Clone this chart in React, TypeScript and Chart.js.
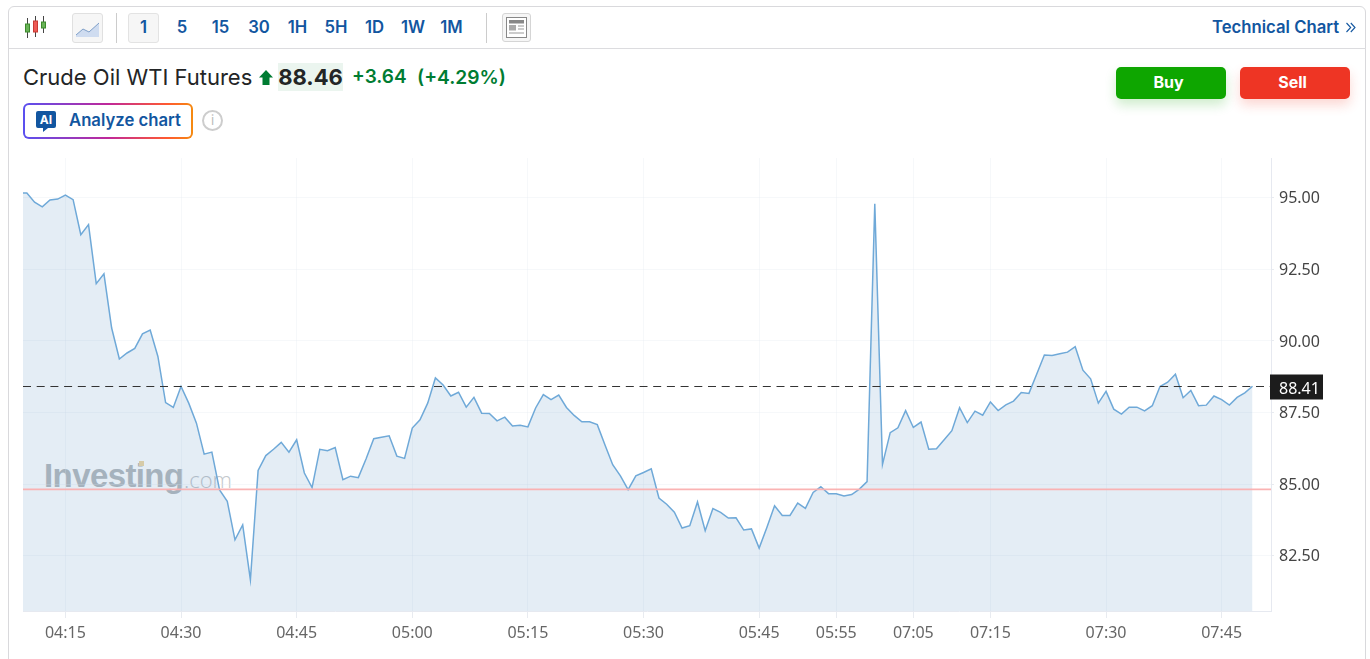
import React, { useEffect, useRef } from "react";
import { Chart, registerables } from "chart.js";

Chart.register(...registerables);

const prices = [
  95.16, 95.16, 94.84, 94.68, 94.92, 94.95, 95.09, 94.93, 93.71, 94.06,
  92.0, 92.34, 90.45, 89.37, 89.58, 89.74, 90.25, 90.38, 89.46, 87.85,
  87.68, 88.41, 87.83, 87.13, 86.05, 86.12, 84.8, 84.4, 83.06, 83.58,
  81.66, 85.48, 86.0, 86.22, 86.46, 86.12, 86.55, 85.39, 84.88, 86.22,
  86.17, 86.28, 85.16, 85.28, 85.23, 85.88, 86.59, 86.64, 86.69, 85.98,
  85.9, 86.96, 87.25, 87.83, 88.71, 88.46, 88.08, 88.21, 87.69, 88.03,
  87.48, 87.47, 87.21, 87.34, 87.03, 87.06, 87.0, 87.66, 88.13, 87.95,
  88.11, 87.68, 87.4, 87.18, 87.18, 87.08, 86.37, 85.68, 85.29, 84.81,
  85.29, 85.41, 85.54, 84.52, 84.3, 84.02, 83.47, 83.55, 84.38, 83.38,
  84.15, 84.02, 83.82, 83.83, 83.4, 83.44, 82.77, 83.49, 84.25, 83.91,
  83.91, 84.34, 84.16, 84.71, 84.91, 84.67, 84.67, 84.59, 84.64, 84.83,
  85.09, 94.79, 85.69, 86.8, 86.97, 87.57, 86.98, 87.17, 86.22, 86.24,
  86.55, 86.87, 87.67, 87.15, 87.55, 87.41, 87.87, 87.57, 87.77, 87.9,
  88.2, 88.17, 88.84, 89.51, 89.49, 89.55, 89.61, 89.8, 88.98, 88.68,
  87.83, 88.24, 87.62, 87.45, 87.69, 87.69, 87.56, 87.74, 88.41, 88.56,
  88.84, 88.02, 88.27, 87.74, 87.76, 88.08, 87.95, 87.76, 88.03, 88.19,
  88.42,
];
const timeTickIndex = [6, 21, 36, 51, 66, 81, 96, 106, 116, 126, 141, 156];
const timeTickLabels = ["04:15", "04:30", "04:45", "05:00", "05:15", "05:30", "05:45", "05:55", "07:05", "07:15", "07:30", "07:45"];
const priceTicks = [82.5, 85, 87.5, 90, 92.5, 95];
const currentLevel = 88.41;
const previousClose = 84.82;
const intervals = ["1", "5", "15", "30", "1H", "5H", "1D", "1W", "1M"];
const intervalCenters = [143.5, 182, 220.5, 259, 297.5, 336, 374.5, 413, 451.5];

const X_MIN = 0.5;
const X_MAX = 162.4;
const BLUE = "#1256a0";
const GREEN = "#007c32";

const abs = (left: number, top: number, extra: React.CSSProperties = {}): React.CSSProperties => ({
  position: "absolute",
  left,
  top,
  ...extra,
});

const priceLabel = {
  id: "priceLabel",
  afterDraw(chart: any) {
    const y = chart.scales.y.getPixelForValue(currentLevel);
    const { ctx, chartArea } = chart;
    ctx.save();
    ctx.fillStyle = "#1c1c1c";
    ctx.fillRect(chartArea.right - 1, Math.round(y) - 12.5, 53, 25);
    ctx.fillStyle = "#fff";
    ctx.font = '16px "Noto Sans"';
    ctx.textBaseline = "middle";
    ctx.textAlign = "left";
    ctx.fillText(currentLevel.toFixed(2), chartArea.right + 8, Math.round(y) + 2.5);
    ctx.restore();
  },
};

function Toolbar() {
  return (
    <>
      <svg style={abs(24, 15)} width="24" height="24" viewBox="0 0 24 24">
        <path d="M3.5 3v20M11.5 1v21M19.5 1v17" stroke="#444" strokeWidth="1" fill="none" />
        <rect x="1.5" y="9" width="4" height="8" fill="#69b357" stroke="#3c8a2c" />
        <rect x="9.5" y="6" width="4" height="11" fill="#ee5a55" stroke="#c83a35" />
        <rect x="17.5" y="7" width="4" height="6" fill="#69b357" stroke="#3c8a2c" />
      </svg>
      <div style={abs(72, 13, { width: 29, height: 28, border: "1px solid #e0e0e0", borderRadius: 3, background: "#f6f6f6" })}>
        <svg width="29" height="28" viewBox="0 0 29 28">
          <path d="M3 21l7-6 6 3 10-9v14H3z" fill="#cfdcf0" />
          <path d="M3 21l7-6 6 3 10-9" stroke="#7f9fc8" strokeWidth="1" fill="none" />
        </svg>
      </div>
      <div style={abs(116, 13, { width: 1, height: 30, background: "#ccc" })} />
      <div style={abs(128, 13, { width: 29, height: 28, border: "1px solid #e3e3e3", borderRadius: 3, background: "#f6f6f6" })} />
      {intervals.map((t, i) => (
        <div key={t} style={abs(intervalCenters[i] - 20, 17, { width: 40, textAlign: "center", fontSize: 16.7, lineHeight: "20px", fontWeight: 600, color: BLUE })}>{t}</div>
      ))}
      <div style={abs(486, 13, { width: 1, height: 30, background: "#ccc" })} />
      <div style={abs(502, 13, { width: 27, height: 27, border: "1px solid #d5d5d5", borderRadius: 3, background: "#f6f6f6" })}>
        <svg width="27" height="27" viewBox="0 0 27 27">
          <rect x="3.5" y="3.5" width="20" height="20" fill="#fff" stroke="#888" />
          <rect x="6" y="6" width="15" height="3.5" fill="#888" />
          <rect x="6" y="11" width="7" height="5.5" fill="#aaa" />
          <path d="M15 12h6M15 15h6M6 19h15" stroke="#999" strokeWidth="1" />
        </svg>
      </div>
      <div style={abs(1212, 17, { fontSize: 16.7, lineHeight: "20px", fontWeight: 600, color: BLUE, whiteSpace: "nowrap" })}>Technical Chart</div>
      <svg style={abs(1345, 22)} width="11" height="11" viewBox="0 0 11 11">
        <path d="M1.5 1l4.2 4.5L1.5 10M5.8 1L10 5.5 5.8 10" stroke={BLUE} strokeWidth="1.1" fill="none" />
      </svg>
    </>
  );
}

function Quote() {
  return (
    <>
      <div style={abs(23, 64, { fontSize: 22, lineHeight: "26px", color: "#232526", whiteSpace: "nowrap" })}>Crude Oil WTI Futures</div>
      <svg style={abs(259, 70)} width="14" height="15" viewBox="0 0 14 15">
        <path d="M7 0l7 7.5H10.5V15H3.5V7.5H0z" fill={GREEN} />
      </svg>
      <div style={abs(278, 63, { width: 65, height: 28, background: "#ebf5ef", textAlign: "center", fontSize: 22, lineHeight: "28px", fontWeight: 700, color: "#232526" })}>88.46</div>
      <div style={abs(352, 65, { fontSize: 19, lineHeight: "24px", fontWeight: 600, color: GREEN, whiteSpace: "nowrap" })}>+3.64</div>
      <div style={abs(417, 65, { fontSize: 19.2, lineHeight: "24px", fontWeight: 600, color: GREEN, whiteSpace: "nowrap" })}>(+4.29%)</div>
      <div style={abs(23, 103, { width: 170, height: 36, borderRadius: 6, background: "linear-gradient(90deg,#5a50f0,#c0289a 50%,#ff5a30 85%,#f58a10)" })} />
      <div style={abs(25, 105, { width: 166, height: 32, borderRadius: 4, background: "#fff" })} />
      <svg style={abs(36, 111)} width="20" height="21" viewBox="0 0 20 21">
        <path d="M2 0h16a2 2 0 0 1 2 2v13a2 2 0 0 1-2 2h-6l-5 4v-4H2a2 2 0 0 1-2-2V2a2 2 0 0 1 2-2z" fill={BLUE} />
      </svg>
      <div style={abs(36, 112, { width: 20, textAlign: "center", fontSize: 12, lineHeight: "15px", fontWeight: 700, color: "#fff" })}>AI</div>
      <div style={abs(69, 110, { fontSize: 16.7, lineHeight: "20px", fontWeight: 600, color: BLUE, whiteSpace: "nowrap" })}>Analyze chart</div>
      <div style={abs(202, 110, { width: 17, height: 17, border: "2px solid #cdcdcd", borderRadius: "50%", textAlign: "center", fontSize: 13, lineHeight: "17px", color: "#bbb" })}>i</div>
      <div style={abs(1116, 67, { width: 110, height: 32, paddingRight: 5, boxSizing: "border-box", borderRadius: 5, background: "#0ea600", color: "#fff", textAlign: "center", fontSize: 16, lineHeight: "31px", fontWeight: 700, boxShadow: "0 6px 12px rgba(14,166,0,.2)" })}>Buy</div>
      <div style={abs(1240, 67, { width: 110, height: 32, paddingRight: 5, boxSizing: "border-box", borderRadius: 5, background: "#ee3524", color: "#fff", textAlign: "center", fontSize: 16, lineHeight: "31px", fontWeight: 700, boxShadow: "0 6px 12px rgba(238,53,36,.2)" })}>Sell</div>
    </>
  );
}

function Watermark() {
  return (
    <>
      <div style={abs(44, 457, { fontFamily: '"Liberation Sans"', fontWeight: 700, fontSize: 33, lineHeight: "38px", letterSpacing: -0.6, color: "#b8bcc0", whiteSpace: "nowrap" })}>Investing</div>
      <div style={abs(184, 462, { fontFamily: '"Open Sans"', fontWeight: 300, fontSize: 22, lineHeight: "34px", color: "#c4c8cc", whiteSpace: "nowrap" })}>.com</div>
      <div style={abs(139, 461, { width: 5, height: 5, background: "#efd9a8" })} />
    </>
  );
}

export default function App() {
  const ref = useRef<HTMLCanvasElement>(null);

  useEffect(() => {
    const flat = (v: number) => [{ x: X_MIN, y: v }, { x: X_MAX, y: v }];
    const chart = new Chart(ref.current as HTMLCanvasElement, {
      type: "line",
      data: {
        datasets: [
          { data: flat(currentLevel), borderColor: "#333", borderWidth: 1, borderDash: [8, 5.7], pointRadius: 0, fill: false },
          { data: flat(previousClose), borderColor: "rgba(250,175,175,0.95)", borderWidth: 1.6, pointRadius: 0, fill: false },
          {
            data: prices.map((y, x) => ({ x, y })),
            borderColor: "#6fa9d8",
            borderWidth: 1.5,
            backgroundColor: "rgba(30,110,170,0.12)",
            fill: "start",
            pointRadius: 0,
            tension: 0,
          },
        ],
      } as any,
      plugins: [priceLabel],
      options: {
        responsive: false,
        animation: false,
        layout: { padding: { left: 23, top: 158, right: 0, bottom: 0 } },
        plugins: { legend: { display: false }, tooltip: { enabled: false } },
        events: [],
        scales: {
          x: {
            type: "linear",
            min: X_MIN,
            max: X_MAX,
            afterFit: (s: any) => { s.height = 48; },
            afterBuildTicks: (s: any) => { s.ticks = timeTickIndex.map((value) => ({ value })); },
            grid: { color: "rgba(225,232,240,0.3)", tickColor: "#e8ebf0", tickLength: 7 },
            border: { color: "#e6e9f0" },
            ticks: {
              autoSkip: false,
              maxRotation: 0,
              padding: 6,
              color: "#666",
              font: { family: '"Noto Sans"', size: 16 },
              callback: (v: any) => timeTickLabels[timeTickIndex.indexOf(Number(v))],
            },
          },
          y: {
            position: "right",
            min: 80.575,
            max: 96.385,
            afterFit: (s: any) => { s.width = 99; },
            afterBuildTicks: (s: any) => { s.ticks = priceTicks.map((value) => ({ value })); },
            grid: { color: "rgba(225,232,240,0.3)", tickColor: "#e8ebf0", tickLength: 3 },
            border: { color: "#e6e9f0" },
            ticks: {
              padding: 5,
              labelOffset: 1,
              color: "#444",
              font: { family: '"Noto Sans"', size: 16 },
              callback: (v: any) => Number(v).toFixed(2),
            },
          },
        },
      } as any,
    });
    return () => chart.destroy();
  }, []);

  return (
    <div style={{ position: "fixed", inset: 0, overflow: "hidden", background: "#fff", fontFamily: "Inter, sans-serif" }}>
      <div style={abs(8, 6, { width: 1358, height: 700, boxSizing: "border-box", border: "1px solid #d9d9dc", borderRadius: 6 })} />
      <div style={abs(9, 48, { width: 1357, height: 1, background: "#dcdcdf" })} />
      <Toolbar />
      <Quote />
      <Watermark />
      <canvas ref={ref} width={1370} height={659} style={abs(0, 0, { display: "block" })} />
    </div>
  );
}
